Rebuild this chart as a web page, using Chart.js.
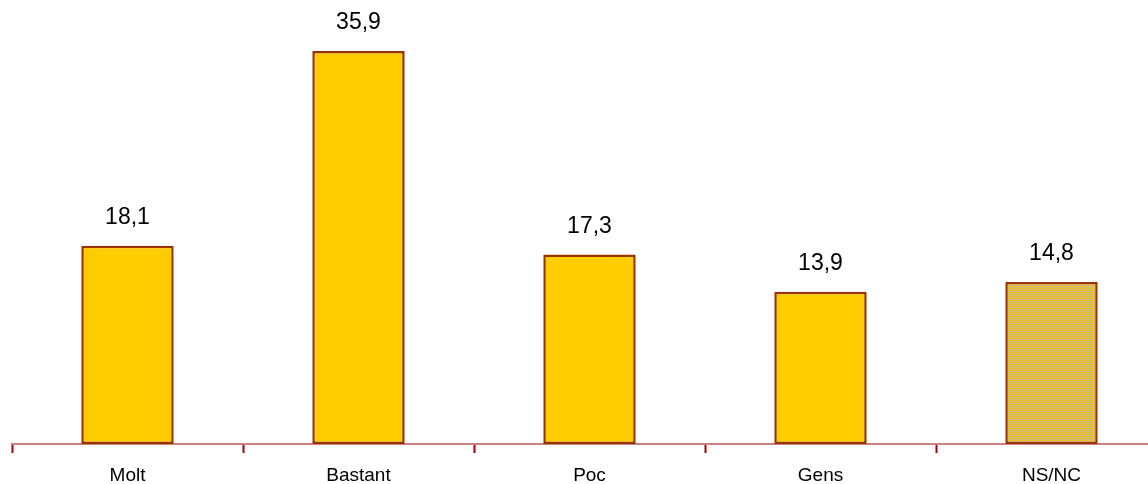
<!DOCTYPE html>
<html>
<head>
<meta charset="utf-8">
<script src="https://cdn.jsdelivr.net/npm/chart.js@4/dist/chart.umd.min.js"></script>
<style>
  html, body { margin: 0; padding: 0; background: #fff; overflow: hidden; }
  #wrap { position: absolute; left: 0; top: 0; width: 1168px; height: 484px; }
</style>
</head>
<body>
<div id="wrap"><canvas id="chart" width="1168" height="484"></canvas></div>
<script>
const categories = ['Molt', 'Bastant', 'Poc', 'Gens', 'NS/NC'];
const values = [18.1, 35.9, 17.3, 13.9, 14.8];

// checker pattern for the NS/NC bar
const makePattern = () => {
    const c = document.createElement('canvas');
    c.width = 2;
    c.height = 2;
    const g = c.getContext('2d');
    g.fillStyle = '#EEC42A';
    g.fillRect(0, 0, 2, 2);
    g.fillStyle = '#CCB676';
    g.fillRect(1, 0, 1, 1);
    g.fillRect(0, 1, 1, 1);
    return g.createPattern(c, 'repeat');
};

const ctx = document.getElementById('chart').getContext('2d');
const hatch = makePattern();

const valueLabels = {
    id: 'valueLabels',
    afterDatasetsDraw(chart) {
        const c = chart.ctx;
        const meta = chart.getDatasetMeta(0);
        c.save();
        c.font = '23px "Liberation Sans", Arial, sans-serif';
        c.fillStyle = '#000';
        c.textAlign = 'center';
        c.textBaseline = 'alphabetic';
        meta.data.forEach((bar, i) => {
            c.fillText(values[i].toFixed(1).replace('.', ','), bar.x, bar.y - 22);
        });
        c.restore();
    }
};

new Chart(ctx, {
    type: 'bar',
    data: {
        labels: categories,
        datasets: [{
            data: values,
            backgroundColor: values.map((v, i) => i === values.length - 1 ? hatch : '#FFCC00'),
            borderColor: '#993300',
            borderWidth: 2.5,
            borderSkipped: false,
            barPercentage: 0.4,
            categoryPercentage: 1
        }]
    },
    options: {
        responsive: false,
        animation: false,
        layout: { padding: { left: 12, right: 1, top: 6, bottom: 0 } },
        plugins: {
            legend: { display: false },
            tooltip: { enabled: false }
        },
        scales: {
            x: {
                offset: true,
                grid: {
                    offset: true,
                    drawOnChartArea: false,
                    drawTicks: true,
                    tickLength: 9,
                    tickColor: '#A00000',
                    tickWidth: 2
                },
                border: { color: '#C88080', width: 2 },
                ticks: {
                    color: '#000',
                    padding: 11,
                    font: { family: '"Liberation Sans", Arial, sans-serif', size: 19 }
                },
                afterFit(scale) { scale.height = 40; }
            },
            y: {
                display: false,
                min: 0,
                max: 40
            }
        }
    },
    plugins: [valueLabels]
});
</script>
</body>
</html>
